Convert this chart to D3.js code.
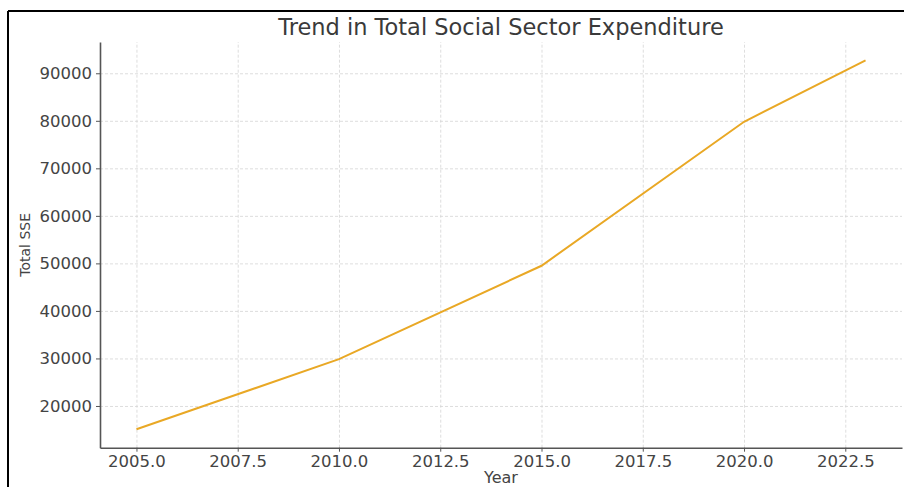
<!DOCTYPE html>
<html>
<head>
    <style>
        body { margin: 0; background: #fff; }
        svg text { font-family: "DejaVu Sans", sans-serif; }
        .grid line { stroke: #d4d4d4; stroke-dasharray: 3,2; stroke-width: 0.8; }
        .grid path { display: none; }
        .axis path, .axis line { stroke: #555; }
        .axis text { fill: #444; font-size: 16.5px; }
        .line { fill: none; stroke: #e9a825; stroke-width: 2; }
    </style>
    <script src="https://d3js.org/d3.v7.min.js"></script>
</head>
<body>

<svg width="904" height="487"></svg>

<script>
    var years = [2005, 2010, 2015, 2020, 2023];
    var totalSSE = [15100, 29850, 49500, 79800, 92700];
    var xTicks = [2005, 2007.5, 2010, 2012.5, 2015, 2017.5, 2020, 2022.5];
    var yTicks = [20000, 30000, 40000, 50000, 60000, 70000, 80000, 90000];

    var margin = { top: 42, right: 2, bottom: 39.3, left: 100 };
    var width = 904 - margin.left - margin.right;
    var height = 487 - margin.top - margin.bottom;

    var svg = d3.select("svg");

    // frame around the picture (top and left edges only)
    svg.append("line").attr("x1", 8).attr("y1", 11).attr("x2", 904).attr("y2", 11)
        .attr("stroke", "#000").attr("stroke-width", 2);
    svg.append("line").attr("x1", 8).attr("y1", 11).attr("x2", 8).attr("y2", 487)
        .attr("stroke", "#000").attr("stroke-width", 2);

    var g = svg.append("g")
        .attr("transform", "translate(" + margin.left + "," + margin.top + ")");

    // matplotlib-like 5% padding
    var xMin = d3.min(years), xMax = d3.max(years), xPad = (xMax - xMin) * 0.05;
    var yMin = d3.min(totalSSE), yMax = d3.max(totalSSE), yPad = (yMax - yMin) * 0.05;

    var xScale = d3.scaleLinear()
        .domain([xMin - xPad, xMax + xPad])
        .range([0, width]);

    var yScale = d3.scaleLinear()
        .domain([yMin - yPad, yMax + yPad])
        .range([height, 0]);

    // grid
    g.append("g").attr("class", "grid")
        .attr("transform", "translate(0," + height + ")")
        .call(d3.axisBottom(xScale).tickValues(xTicks).tickSize(-height).tickFormat(""));
    g.append("g").attr("class", "grid")
        .call(d3.axisLeft(yScale).tickValues(yTicks).tickSize(-width).tickFormat(""));

    var line = d3.line()
        .x(function(d, i) { return xScale(years[i]); })
        .y(function(d) { return yScale(d); });

    g.append("path")
        .datum(totalSSE)
        .attr("class", "line")
        .attr("d", line);

    var xAxis = d3.axisBottom(xScale).tickValues(xTicks).tickFormat(d3.format(".1f"))
        .tickSizeInner(4).tickSizeOuter(0).tickPadding(4);
    var yAxis = d3.axisLeft(yScale).tickValues(yTicks).tickFormat(d3.format("d"))
        .tickSizeInner(4).tickSizeOuter(0).tickPadding(4);

    g.append("g")
        .attr("class", "axis")
        .attr("transform", "translate(0," + height + ")")
        .call(xAxis)
        .select(".domain").attr("stroke-width", 1.6);

    g.append("g")
        .attr("class", "axis")
        .call(yAxis)
        .select(".domain").attr("stroke-width", 1.6);

    // title and labels
    svg.append("text")
        .attr("x", margin.left + width / 2)
        .attr("y", 35)
        .attr("text-anchor", "middle")
        .attr("fill", "#3a3a3a")
        .style("font-size", "22.5px")
        .text("Trend in Total Social Sector Expenditure");

    svg.append("text")
        .attr("x", margin.left + width / 2)
        .attr("y", 483)
        .attr("text-anchor", "middle")
        .attr("fill", "#444")
        .style("font-size", "16px")
        .text("Year");

    svg.append("text")
        .attr("transform", "translate(30," + (margin.top + height / 2) + ") rotate(-90)")
        .attr("text-anchor", "middle")
        .attr("fill", "#444")
        .style("font-size", "14px")
        .text("Total SSE");
</script>
</body>
</html>
